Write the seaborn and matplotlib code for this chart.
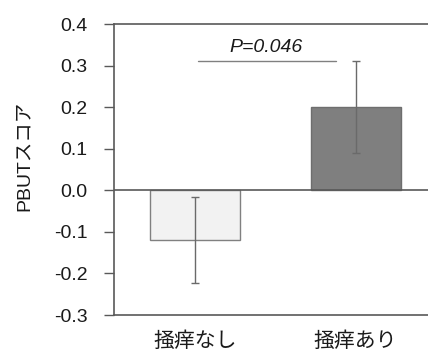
import matplotlib
matplotlib.use("Agg")
import matplotlib.pyplot as plt
import seaborn as sns
import pandas as pd

# values
groups = ["掻痒なし", "掻痒あり"]
means = [-0.12, 0.20]
errors = [0.103, 0.111]
bar_colors = ["#f2f2f2", "#7f7f7f"]
edge_colors = ["#808080", "#6e6e6e"]
p_label = "P=0.046"

sns.set_style("white")
plt.rcParams["font.family"] = ["Liberation Sans", "Noto Sans CJK JP"]

df = pd.DataFrame({"group": groups, "score": means})

fig = plt.figure(figsize=(4.28, 3.5), dpi=100)
ax = fig.add_axes([0.2664, 0.10, 0.7336, 0.8314])

sns.barplot(data=df, x="group", y="score", hue="group", palette=bar_colors,
            errorbar=None, width=0.56, legend=False, ax=ax, zorder=2)
for patch, ec in zip(ax.patches, edge_colors):
    patch.set_edgecolor(ec)
    patch.set_linewidth(1.0)

xpos = range(len(groups))
ax.errorbar(list(xpos), means, yerr=errors, fmt="none", ecolor="#6a6a6a",
            elinewidth=1.0, capsize=3, capthick=1.0, zorder=5)

# zero line
ax.axhline(0, color="#595959", lw=1.2, zorder=4)

# significance line and label
y_sig = means[1] + errors[1]
ax.plot([0.02, 0.88], [y_sig, y_sig], color="#808080", lw=1.0, zorder=3)
ax.text(0.44, y_sig + 0.012, p_label, style="italic", fontsize=14,
        ha="center", va="bottom", color="#1a1a1a")

ax.set_ylim(-0.3, 0.4)
ax.set_xlim(-0.503, 1.45)
ax.set_yticks([-0.3, -0.2, -0.1, 0.0, 0.1, 0.2, 0.3, 0.4])
ax.set_yticklabels([f"{v:.1f}" for v in ax.get_yticks()])

for side in ["left", "top", "bottom"]:
    ax.spines[side].set_color("#595959")
    ax.spines[side].set_linewidth(1.2)
ax.spines["right"].set_visible(False)

ax.tick_params(axis="y", which="both", left=True, length=7, width=1.0,
               color="#595959", pad=12, labelsize=14, labelcolor="#1a1a1a")
ax.tick_params(axis="x", length=0, pad=12, labelsize=15, labelcolor="#1a1a1a")

ax.set_xlabel("")
ax.set_ylabel("PBUTスコア", fontsize=14, color="#1a1a1a")
ax.yaxis.set_label_coords(-0.26, 0.546)

fig.savefig("out.png", dpi=100)
